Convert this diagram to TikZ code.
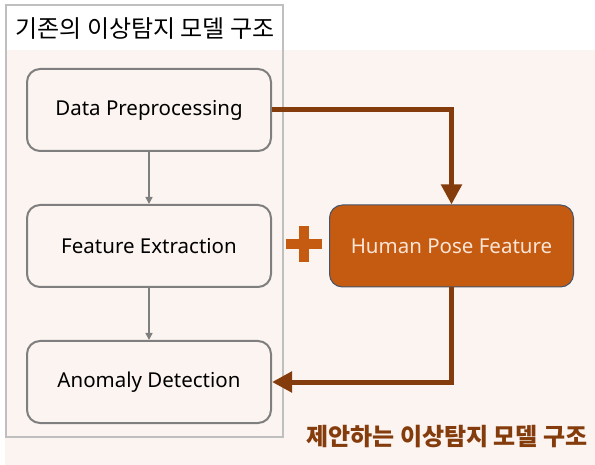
\documentclass[tikz,border=0pt]{standalone}
\usepackage{fontspec}
\setmainfont{Noto Sans}
\newfontfamily\krfont{Noto Sans CJK KR}
\usetikzlibrary{arrows.meta,positioning}
\definecolor{bgColor}{RGB}{252,244,241}
\definecolor{stageColor}{RGB}{127,127,127}
\definecolor{frameColor}{RGB}{191,191,191}
\definecolor{poseColor}{RGB}{197,90,17}
\definecolor{poseLine}{RGB}{68,84,106}
\definecolor{poseText}{RGB}{251,229,214}
\definecolor{flowColor}{RGB}{132,60,12}
\tikzset{stage/.style={draw=stageColor, line width=2pt, fill=bgColor, rounded corners=13pt, minimum width=244pt, minimum height=82pt, font=\fontsize{20.5}{24}\selectfont}}
\tikzset{pose/.style={stage, fill=poseColor, draw=poseLine, line width=1pt, text=poseText}}
\tikzset{link/.style={draw=stageColor, line width=1.5pt, -{Triangle[length=7pt,width=7pt]}}}
\tikzset{flow/.style={draw=flowColor, line width=5pt, -{Triangle[length=20pt,width=20pt]}}}

\begin{document}
\begin{tikzpicture}[x=1pt, y=-1pt, node distance=52pt and 57pt]
\useasboundingbox (0,0) rectangle (595,465);
% Background
\fill[bgColor] (5,50) rectangle (595,465);
\draw[frameColor, line width=2pt] (6,5) rectangle (283,437);

% Nodes
\node (OldTitle) at (145,29) [font=\krfont\fontsize{24}{28}\selectfont] {기존의 이상탐지 모델 구조};
\node (DataPreprocessing) [stage] at (149,110) {Data Preprocessing};
\node (FeatureExtraction) [stage, below=of DataPreprocessing] {Feature Extraction};
\node (AnomalyDetection) [stage, below=of FeatureExtraction] {Anomaly Detection};
\node (HumanPoseFeature) [pose, right=of FeatureExtraction] {Human Pose Feature};
\node (NewTitle) at (447,437) [font=\krfont\bfseries\fontsize{24}{28}\selectfont, text=flowColor] {제안하는 이상탐지 모델 구조};

% Plus sign
\fill[poseColor] (286,239) rectangle (322,249);
\fill[poseColor] (299,226) rectangle (309,262);

% Connectors
\draw [link] (DataPreprocessing) -- (FeatureExtraction);
\draw [link] (FeatureExtraction) -- (AnomalyDetection);

\draw [flow] (DataPreprocessing.east) -| (HumanPoseFeature.north);
\draw [flow] (HumanPoseFeature.south) |- (AnomalyDetection.east);

\end{tikzpicture}
\end{document}
